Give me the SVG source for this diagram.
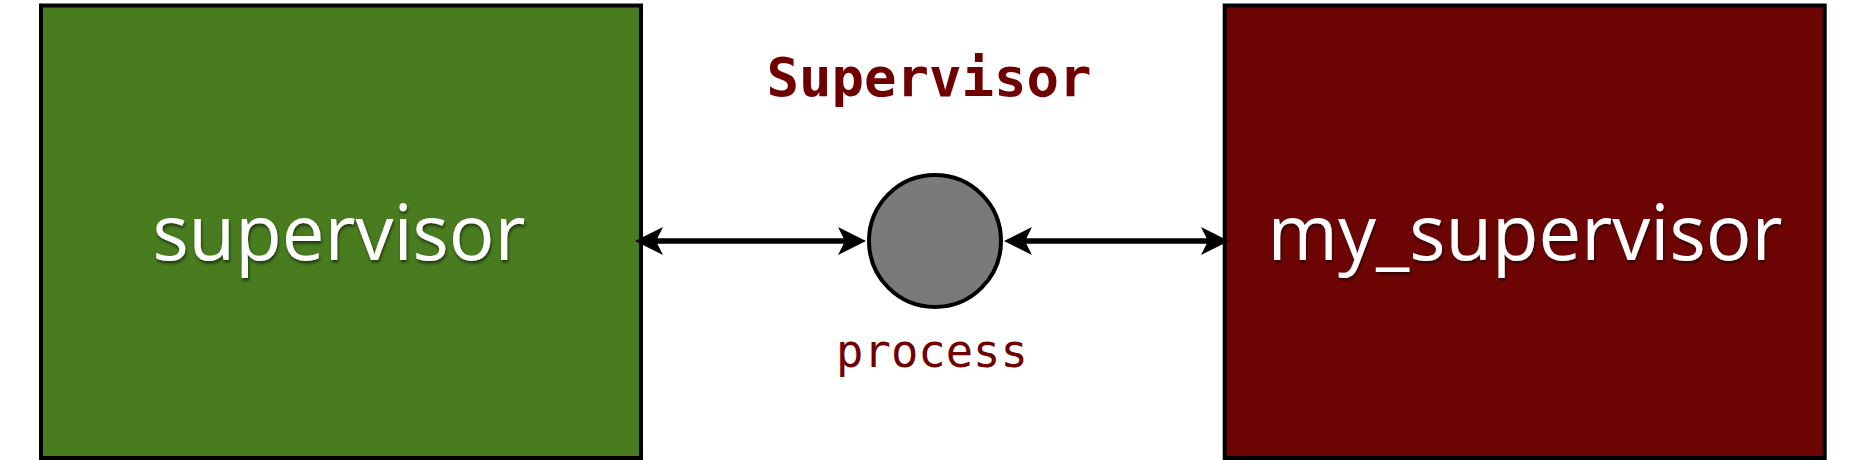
<svg xmlns="http://www.w3.org/2000/svg" width="1862" height="460" viewBox="0 0 1862 460">
  <style>
    .box { stroke: #000; stroke-width: 4; }
    .boxlabel { font-family: "Open Sans", "Noto Sans", sans-serif; font-size: 76px; font-weight: 500; fill: #ffffff; text-anchor: middle; filter: url(#shadow); }
    .mono { font-family: "DejaVu Sans Mono", "Liberation Mono", monospace; fill: #700000; text-anchor: middle; }
    .conn { stroke: #000; stroke-width: 5.5; fill: none; marker-start: url(#arrow); marker-end: url(#arrow); }
  </style>
  <defs>
    <filter id="shadow" x="-10%" y="-20%" width="120%" height="150%">
      <feDropShadow dx="1" dy="2.5" stdDeviation="1.8" flood-color="#000" flood-opacity="0.55"/>
    </filter>
    <marker id="arrow" markerUnits="userSpaceOnUse" viewBox="-30 -15 31 30" refX="-21" refY="0" markerWidth="31" markerHeight="30" orient="auto-start-reverse" overflow="visible">
      <path d="M0,0 L-28,-14 L-21,0 L-28,14 Z" fill="#000"/>
    </marker>
  </defs>
  <rect width="1862" height="460" fill="#ffffff"/>

  <g id="supervisor">
    <rect class="box" x="41" y="5.5" width="600" height="452.5" fill="#487C1F"/>
    <text class="boxlabel" x="339" y="260">supervisor</text>
  </g>

  <g id="my_supervisor">
    <rect class="box" x="1224.7" y="5.5" width="600" height="452.5" fill="#6E0505"/>
    <text class="boxlabel" x="1525" y="260">my_supervisor</text>
  </g>

  <g id="process">
    <circle cx="935" cy="241" r="66" fill="#7A7A7A" stroke="#000" stroke-width="4"/>
    <text class="mono" x="932" y="367" font-size="45.5">process</text>
  </g>

  <g id="title">
    <text class="mono" x="929" y="96" font-size="54" font-weight="bold">Supervisor</text>
  </g>

  <g id="connectors">
    <line class="conn" x1="656" y1="241" x2="845" y2="241"/>
    <line class="conn" x1="1025" y1="241" x2="1208" y2="241"/>
  </g>
</svg>
